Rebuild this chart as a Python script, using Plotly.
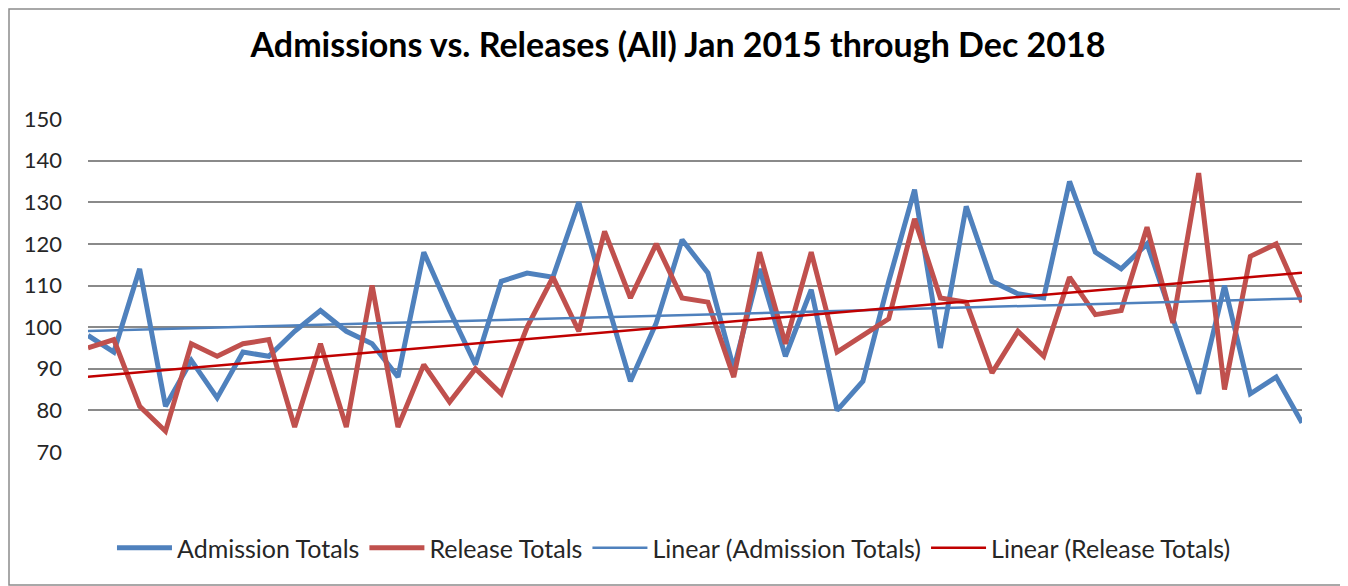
import numpy as np
import plotly.graph_objects as go

# ---- data (monthly, Jan 2015 .. Dec 2018) ----
years = [2015, 2016, 2017, 2018]
month_names = ["Jan", "Feb", "Mar", "Apr", "May", "Jun",
               "Jul", "Aug", "Sep", "Oct", "Nov", "Dec"]
months = [f"{m} {y}" for y in years for m in month_names]

admission_totals = [98, 94, 114, 81, 92, 83, 94, 93, 99, 104, 99, 96,
                    88, 118, 104, 91, 111, 113, 112, 130, 108, 87, 101, 121,
                    113, 90, 114, 93, 109, 80, 87, 111, 133, 95, 129, 111,
                    108, 107, 135, 118, 114, 120, 102, 84, 110, 84, 88, 77]

release_totals = [95, 97, 81, 75, 96, 93, 96, 97, 76, 96, 76, 110,
                  76, 91, 82, 90, 84, 100, 112, 99, 123, 107, 120, 107,
                  106, 88, 118, 96, 118, 94, 98, 102, 126, 107, 106, 89,
                  99, 93, 112, 103, 104, 124, 101, 137, 85, 117, 120, 106]

y_ticks = [70, 80, 90, 100, 110, 120, 130, 140, 150]

# ---- linear trendlines (least squares, like Excel "Linear") ----
idx = np.arange(len(months))
adm_fit = np.polyval(np.polyfit(idx, admission_totals, 1), idx)
rel_fit = np.polyval(np.polyfit(idx, release_totals, 1), idx)

BLUE = "#4F81BD"
RED = "#C0504D"
DARKRED = "#C00000"
FONT = "Lato, 'Open Sans', sans-serif"

fig = go.Figure()
fig.add_trace(go.Scatter(x=months, y=admission_totals, mode="lines",
                         name="Admission Totals",
                         line=dict(color=BLUE, width=5)))
fig.add_trace(go.Scatter(x=months, y=release_totals, mode="lines",
                         name="Release Totals",
                         line=dict(color=RED, width=5)))
fig.add_trace(go.Scatter(x=months, y=adm_fit, mode="lines",
                         name="Linear (Admission Totals)",
                         line=dict(color=BLUE, width=2.5)))
fig.add_trace(go.Scatter(x=months, y=rel_fit, mode="lines",
                         name="Linear (Release Totals)",
                         line=dict(color=DARKRED, width=2.5)))

# page has an 8px body margin, so the figure is sized/positioned accordingly
W, H = 1340, 578
ml, mr, mt, mb = 80, 46, 111, 134

fig.update_layout(
    width=W, height=H,
    margin=dict(l=ml, r=mr, t=mt, b=mb, pad=0),
    paper_bgcolor="white", plot_bgcolor="white",
    font=dict(family=FONT, color="#262626"),
    title=dict(text="<b>Admissions vs. Releases (All) Jan 2015 through Dec 2018</b>",
               x=0.5, xanchor="center", xref="container",
               y=1 - 37 / H, yanchor="middle", yref="container",
               font=dict(family=FONT, size=34, color="#000000")),
    xaxis=dict(type="category", range=[0, len(months) - 1],
               showticklabels=False, showgrid=False, zeroline=False,
               showline=False, ticks=""),
    yaxis=dict(range=[70, 150], tickvals=y_ticks, showgrid=True,
               gridcolor="#8A8A8A", gridwidth=2, zeroline=False,
               showline=False, ticks="", ticklabelstandoff=25,
               tickfont=dict(family=FONT, size=22, color="#262626")),
    legend=dict(orientation="h", x=0.497, xanchor="center", xref="container",
                y=1 - 540 / H, yanchor="middle", yref="container",
                font=dict(family=FONT, size=25, color="#262626"),
                itemwidth=55, traceorder="normal"),
    showlegend=True,
)

# chart-area outline
pw = W - ml - mr
ph = H - mt - mb
fig.add_shape(type="rect", xref="paper", yref="paper",
              x0=(1 - ml) / pw, x1=(W - 1 - ml) / pw,
              y0=-(mb - 1) / ph, y1=(ph + mt - 1) / ph,
              line=dict(color="#8C8C8C", width=1.5), fillcolor="rgba(0,0,0,0)",
              layer="below")

fig.write_html("out.html")
